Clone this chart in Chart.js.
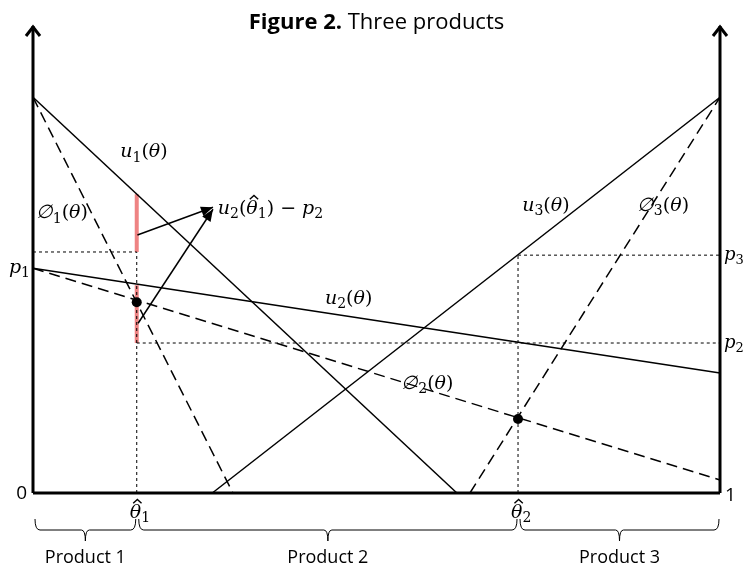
<!DOCTYPE html>
<html lang="en">
<head>
<meta charset="UTF-8">
<title>Three products</title>
<script src="https://cdn.jsdelivr.net/npm/chart.js"></script>
<style>
  html, body { margin: 0; padding: 0; background: #fff; }
  #wrap { width: 743px; height: 566px; }
</style>
</head>
<body>
<div id="wrap"><canvas id="chart" width="743" height="566"></canvas></div>
<script>
// cut-off types and prices
const thetaHat = [0.151, 0.706];
const priceValues = [0.568, 0.379, 0.601];   // p1, p2, p3
const upperGuide = 0.609;

// utility lines (endpoints)
const u1X = [0, 0.617],  u1Y = [1, 0];
const u2X = [0, 1],      u2Y = [0.568, 0.303];
const u3X = [0.261, 1],  u3Y = [0, 1];
const phi1X = [0, 0.291], phi1Y = [1, 0];
const phi2X = [0, 1],     phi2Y = [0.568, 0.033];
const phi3X = [0.636, 1], phi3Y = [0, 1];

// highlighted gaps at theta-hat 1
const redUpperY = [0.609, 0.755];
const redLowerY = [0.379, 0.525];

// intersection dots
const dotX = [0.151, 0.706];
const dotY = [0.482, 0.187];

// annotation arrows (start -> tip)
const arrowAX = [0.152, 0.262], arrowAY = [0.652, 0.722];
const arrowBX = [0.153, 0.262], arrowBY = [0.429, 0.717];

const yTop = 1.18;
const segmentLabels = ['Product 1', 'Product 2', 'Product 3'];

const pts = (xs, ys) => xs.map((x, i) => ({ x: x, y: ys[i] }));

function line(xs, ys, opts) {
    return Object.assign({
        data: pts(xs, ys),
        showLine: true,
        pointRadius: 0,
        borderColor: '#000',
        borderWidth: 1.5,
        fill: false,
        order: 2
    }, opts);
}

const th1 = thetaHat[0], th2 = thetaHat[1];
const dotted = { borderWidth: 1, borderDash: [3, 3], order: 3 };
const dashed = { borderWidth: 1.5, borderDash: [11, 6] };
const red = { borderColor: 'rgba(232,90,90,0.75)', borderWidth: 4, order: 4 };
const axis = { borderWidth: 3, order: 1 };

const datasets = [
    line([th1, th1], redUpperY, red),
    line([th1, th1], redLowerY, red),
    // guides
    line([0, th1], [upperGuide, upperGuide], dotted),
    line([th1, th1], [0, upperGuide], dotted),
    line([th1, 1], [priceValues[1], priceValues[1]], dotted),
    line([th2, 1], [priceValues[2], priceValues[2]], dotted),
    line([th2, th2], [0, priceValues[2]], dotted),
    // utilities
    line(u1X, u1Y),
    line(u2X, u2Y),
    line(u3X, u3Y),
    line(phi1X, phi1Y, dashed),
    line(phi2X, phi2Y, dashed),
    line(phi3X, phi3Y, dashed),
    // arrows
    line(arrowAX, arrowAY),
    line(arrowBX, arrowBY),
    // axes
    line([0, 0], [0, yTop], axis),
    line([1, 1], [0, yTop], axis),
    line([0, 1], [0, 0], axis),
    // dots
    { data: pts(dotX, dotY), showLine: false, pointRadius: 5, pointBackgroundColor: '#000', pointBorderWidth: 0, order: 0 }
];

const MATH = '"DejaVu Serif", serif';
const SANS = '"Open Sans", "Liberation Sans", sans-serif';

// parts: [text, kind] kind: i italic, n normal, s subscript, h italic with hat
function drawMath(ctx, x, y, parts, size, align) {
    size = size || 19;
    const fontOf = k => k === 's' ? Math.round(size * 0.72) + 'px ' + MATH
        : (k === 'n' ? '' : 'italic ') + size + 'px ' + MATH;
    let total = 0;
    parts.forEach(p => { ctx.font = fontOf(p[1]); total += ctx.measureText(p[0]).width; });
    let cx = align === 'right' ? x - total : (align === 'center' ? x - total / 2 : x);
    ctx.textAlign = 'left';
    ctx.textBaseline = 'alphabetic';
    parts.forEach(p => {
        ctx.font = fontOf(p[1]);
        const w = ctx.measureText(p[0]).width;
        ctx.fillText(p[0], cx, p[1] === 's' ? y + size * 0.22 : y);
        if (p[1] === 'h') {
            // circumflex accent
            const hx = cx + w / 2 + size * 0.1, hy = y - size * 0.98;
            ctx.save();
            ctx.lineWidth = 1.4;
            ctx.beginPath();
            ctx.moveTo(hx - size * 0.22, hy + size * 0.2);
            ctx.lineTo(hx, hy);
            ctx.lineTo(hx + size * 0.22, hy + size * 0.2);
            ctx.stroke();
            ctx.restore();
        }
        cx += w;
    });
}

const fnLabel = (sym, sub) => [[sym, 'i'], [sub, 's'], ['(', 'n'], ['θ', 'i'], [')', 'n']];

const mathLabels = [
    { x: 0.127, y: 0.848, parts: fnLabel('u', '1') },
    { x: 0.004, y: 0.694, parts: fnLabel('∅', '1') },
    { x: 0.425, y: 0.477, parts: fnLabel('u', '2') },
    { x: 0.536, y: 0.263, parts: fnLabel('∅', '2') },
    { x: 0.712, y: 0.712, parts: fnLabel('u', '3') },
    { x: 0.879, y: 0.712, parts: fnLabel('∅', '3') },
    { x: 0.269, y: 0.705, parts: [['u', 'i'], ['2', 's'], ['(', 'n'], ['θ', 'h'], ['1', 's'], [')', 'n'], [' − ', 'n'], ['p', 'i'], ['2', 's']] }
];

const drawPlugin = {
    id: 'drawExtras',
    afterDatasetsDraw(chart) {
        const ctx = chart.ctx;
        const xs = chart.scales.x, ys = chart.scales.y;
        const X = v => xs.getPixelForValue(v), Y = v => ys.getPixelForValue(v);
        ctx.save();
        ctx.fillStyle = '#000';
        ctx.strokeStyle = '#000';

        // open arrowheads on the vertical axes
        ctx.lineWidth = 3;
        [0, 1].forEach(v => {
            const px = X(v), py = Y(yTop);
            ctx.beginPath();
            ctx.moveTo(px - 7, py + 10);
            ctx.lineTo(px, py + 1);
            ctx.lineTo(px + 7, py + 10);
            ctx.stroke();
        });

        // filled heads on annotation arrows
        [[arrowAX, arrowAY], [arrowBX, arrowBY]].forEach(a => {
            const x0 = X(a[0][0]), y0 = Y(a[1][0]), x1 = X(a[0][1]), y1 = Y(a[1][1]);
            const ang = Math.atan2(y1 - y0, x1 - x0);
            const L = 12, W = 5;
            ctx.beginPath();
            ctx.moveTo(x1, y1);
            ctx.lineTo(x1 - L * Math.cos(ang) + W * Math.sin(ang), y1 - L * Math.sin(ang) - W * Math.cos(ang));
            ctx.lineTo(x1 - L * Math.cos(ang) - W * Math.sin(ang), y1 - L * Math.sin(ang) + W * Math.cos(ang));
            ctx.closePath();
            ctx.fill();
        });

        // title
        ctx.textBaseline = 'alphabetic';
        ctx.textAlign = 'left';
        const t1 = 'Figure 2.', t2 = ' Three products';
        ctx.font = 'bold 22px ' + SANS;
        const w1 = ctx.measureText(t1).width;
        ctx.font = '22px ' + SANS;
        const w2 = ctx.measureText(t2).width;
        const tx = (X(0) + X(1)) / 2 - (w1 + w2) / 2;
        ctx.font = 'bold 22px ' + SANS;
        ctx.fillText(t1, tx, 29);
        ctx.font = '22px ' + SANS;
        ctx.fillText(t2, tx + w1, 29);

        // function labels
        mathLabels.forEach(l => drawMath(ctx, X(l.x), Y(l.y), l.parts, 19));

        // price labels
        drawMath(ctx, X(0) - 3, Y(priceValues[0]) + 5, [['p', 'i'], ['1', 's']], 19, 'right');
        drawMath(ctx, X(1) + 4, Y(priceValues[2]) + 5, [['p', 'i'], ['3', 's']], 18);
        drawMath(ctx, X(1) + 4, Y(priceValues[1]) + 5, [['p', 'i'], ['2', 's']], 18);

        // axis end labels
        ctx.font = '19px ' + SANS;
        ctx.textBaseline = 'middle';
        ctx.textAlign = 'right';
        ctx.fillText('0', X(0) - 6, Y(0) + 1);
        ctx.textAlign = 'left';
        ctx.fillText('1', X(1) + 5, Y(0) + 3);

        // theta-hat labels
        thetaHat.forEach((v, i) => {
            drawMath(ctx, X(v) - 7, Y(0) + 25, [['θ', 'h'], [String(i + 1), 's']], 19);
        });

        // braces
        const bounds = [0, th1, th2, 1];
        const yb = Y(0);
        ctx.lineWidth = 1;
        for (let i = 0; i < 3; i++) {
            const a = X(bounds[i]) + 2, b = X(bounds[i + 1]) - 1;
            const m = (a + b) / 2;
            const y0 = yb + 26, ym = yb + 37, yt = yb + 48;
            ctx.beginPath();
            ctx.moveTo(a, y0);
            ctx.quadraticCurveTo(a, ym, a + 5, ym);
            ctx.lineTo(m - 4, ym);
            ctx.quadraticCurveTo(m, ym, m, yt);
            ctx.moveTo(m, yt);
            ctx.quadraticCurveTo(m, ym, m + 4, ym);
            ctx.lineTo(b - 5, ym);
            ctx.quadraticCurveTo(b, ym, b, y0);
            ctx.stroke();
            ctx.font = '18px ' + SANS;
            ctx.textAlign = 'center';
            ctx.textBaseline = 'alphabetic';
            ctx.fillText(segmentLabels[i], m, yb + 70);
        }
        ctx.restore();
    }
};

Chart.defaults.animation = false;
new Chart(document.getElementById('chart').getContext('2d'), {
    type: 'scatter',
    data: { datasets: datasets },
    options: {
        responsive: false,
        devicePixelRatio: 1,
        layout: { padding: { left: 33, right: 23, top: 26, bottom: 73 } },
        plugins: { legend: { display: false }, tooltip: { enabled: false }, title: { display: false } },
        scales: {
            x: { type: 'linear', min: 0, max: 1, display: false },
            y: { type: 'linear', min: 0, max: yTop, display: false }
        },
        clip: false
    },
    plugins: [drawPlugin]
});
</script>
</body>
</html>
